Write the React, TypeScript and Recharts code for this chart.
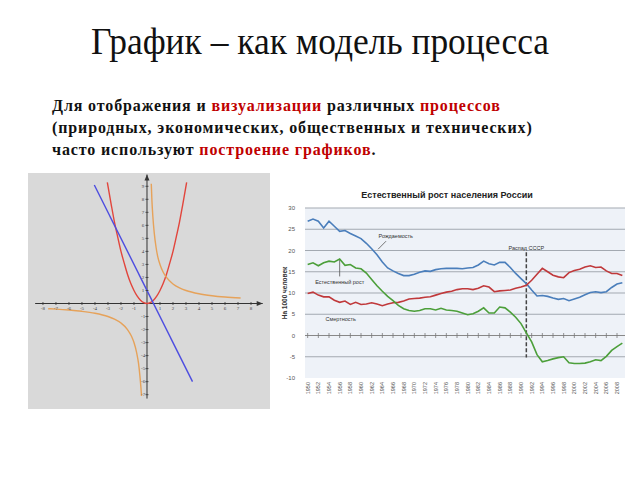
import React from 'react';
import {
  LineChart,
  Line,
  XAxis,
  YAxis,
  CartesianGrid,
  ReferenceLine,
  ReferenceDot,
} from 'recharts';

// --- population chart (Russia, per 1000 people) ---
const years = [
  1950, 1951, 1952, 1953, 1954, 1955, 1956, 1957, 1958, 1959,
  1960, 1961, 1962, 1963, 1964, 1965, 1966, 1967, 1968, 1969,
  1970, 1971, 1972, 1973, 1974, 1975, 1976, 1977, 1978, 1979,
  1980, 1981, 1982, 1983, 1984, 1985, 1986, 1987, 1988, 1989,
  1990, 1991, 1992, 1993, 1994, 1995, 1996, 1997, 1998, 1999,
  2000, 2001, 2002, 2003, 2004, 2005, 2006, 2007, 2008, 2009,
];
const birthRate = [
  26.9, 27.4, 26.9, 25.3, 26.9, 25.7, 24.5, 24.7, 24.0, 23.4,
  22.8, 21.7, 20.4, 19.0, 17.3, 15.9, 15.2, 14.6, 14.1, 14.1,
  14.4, 14.9, 15.2, 15.1, 15.5, 15.7, 15.8, 15.8, 15.8, 15.7,
  15.9, 16.0, 16.6, 17.5, 16.9, 16.6, 17.2, 17.2, 16.0, 14.6,
  13.4, 12.2, 10.7, 9.3, 9.4, 9.2, 8.8, 8.5, 8.7, 8.2,
  8.6, 9.0, 9.6, 10.1, 10.3, 10.1, 10.3, 11.3, 12.1, 12.4,
];
const deathRate = [
  9.9, 10.2, 9.5, 9.1, 9.1, 8.3, 7.8, 8.1, 7.3, 7.8,
  7.3, 7.4, 7.7, 7.4, 7.0, 7.4, 7.7, 7.8, 8.1, 8.6,
  8.7, 8.8, 9.0, 9.1, 9.5, 9.9, 10.2, 10.4, 10.8, 11.0,
  11.0, 10.8, 11.1, 11.7, 11.4, 10.3, 10.5, 10.6, 10.7, 11.1,
  11.4, 11.8, 13.0, 14.4, 15.8, 15.0, 14.2, 13.8, 13.6, 14.8,
  15.3, 15.6, 16.1, 16.4, 16.0, 16.1, 15.2, 14.6, 14.6, 14.1,
];
const naturalGrowth = [
  16.7, 17.1, 16.4, 17.1, 17.5, 17.3, 18.0, 16.5, 16.7, 15.9,
  15.7, 14.7, 13.2, 11.7, 10.4, 9.2, 8.2, 7.1, 6.3, 5.9,
  5.7, 5.9, 6.3, 6.3, 6.0, 6.4, 6.0, 5.9, 5.7, 5.3,
  4.9, 5.1, 5.7, 6.5, 5.3, 5.3, 6.7, 6.5, 5.5, 4.3,
  2.8, 0.6, -1.5, -4.5, -6.2, -5.9, -5.5, -5.2, -5.0, -6.4,
  -6.6, -6.6, -6.5, -6.2, -5.7, -5.9, -4.9, -3.5, -2.6, -1.8,
];
const yTicks = [-10, -5, 0, 5, 10, 15, 20, 25, 30];
const gridValues = [30, 25, 20, 15, 10, 5, -5];
const yearTicks = [
  1950, 1952, 1954, 1956, 1958, 1960, 1962, 1964, 1966, 1968,
  1970, 1972, 1974, 1976, 1978, 1980, 1982, 1984, 1986, 1988,
  1990, 1992, 1994, 1996, 1998, 2000, 2002, 2004, 2006, 2008,
];

// --- function graphs (left picture) ---
const parabolaX = [-3.05, -2.75, -2.5, -2.25, -2, -1.75, -1.5, -1.25, -1, -0.75, -0.5, -0.25, 0, 0.25, 0.5, 0.75, 1, 1.25, 1.5, 1.75, 2, 2.25, 2.5, 2.75, 3.05];
const parabolaY = [9.3, 7.6, 6.25, 5.1, 4, 3.1, 2.25, 1.55, 1, 0.56, 0.25, 0.06, 0, 0.06, 0.25, 0.56, 1, 1.55, 2.25, 3.1, 4, 5.1, 6.25, 7.6, 9.3];
const straightX = [-4.05, 3.5];
const straightY = [9.1, -6.0];
const hyperRightX = [0.33, 0.38, 0.45, 0.55, 0.7, 0.85, 1, 1.25, 1.5, 2, 2.5, 3, 4, 5, 6, 7.2];
const hyperRightY = [9.2, 7.9, 6.7, 5.5, 4.3, 3.5, 3, 2.4, 2, 1.5, 1.2, 1, 0.75, 0.6, 0.5, 0.42];
const hyperLeftX = [-7.6, -7, -6, -5, -4, -3, -2.5, -2, -1.5, -1.2, -1, -0.8, -0.65, -0.55, -0.47, -0.42];
const hyperLeftY = [-0.4, -0.43, -0.5, -0.6, -0.75, -1, -1.2, -1.5, -2, -2.5, -3, -3.75, -4.6, -5.5, -6.4, -7.1];
const mathXTicks = [-8, -7, -6, -5, -4, -3, -2, -1, 1, 2, 3, 4, 5, 6, 7, 8];
const mathYTicks = [9, 8, 7, 6, 5, 4, 3, 2, 1, -1, -2, -3, -4, -5, -6, -7];

const popData = years.map((year, i) => ({
  year,
  birth: birthRate[i],
  death: deathRate[i],
  growth: naturalGrowth[i],
}));

const toPoints = (xs: number[], ys: number[]) => xs.map((x, i) => ({ x, y: ys[i] }));

const RED = '#c00000';

const YearTick = (props: any) => {
  const { x, y, payload } = props;
  return (
    <text
      x={x + 2}
      y={y + 1}
      transform={`rotate(-90 ${x + 2} ${y + 1})`}
      textAnchor="end"
      fontSize={5.5}
      fill="#555"
      fontFamily="Liberation Sans, sans-serif"
    >
      {payload.value}
    </text>
  );
};

const hTick = (props: any) => (
  <line x1={props.cx} x2={props.cx} y1={props.cy - 1.5} y2={props.cy + 1.5} stroke="#333" strokeWidth={0.8} />
);
const vTick = (props: any) => (
  <line x1={props.cx - 1.5} x2={props.cx + 1.5} y1={props.cy} y2={props.cy} stroke="#333" strokeWidth={0.8} />
);
const zeroTick = (props: any) => (
  <line x1={props.cx} x2={props.cx} y1={props.cy - 2.5} y2={props.cy + 2.5} stroke="#777" strokeWidth={0.8} />
);
const arrowRight = (props: any) => (
  <path d={`M${props.cx},${props.cy} l-6,-2.5 l0,5 z`} fill="#333" />
);
const arrowUp = (props: any) => (
  <path d={`M${props.cx},${props.cy} l-2.5,6 l5,0 z`} fill="#333" />
);

const MathChart = () => (
  <LineChart width={242} height={236} margin={{ top: 0, right: 0, bottom: 0, left: 0 }}>
    <CartesianGrid horizontal={false} vertical={false} fill="#d9d9d9" />
    <XAxis type="number" dataKey="x" domain={[-9.15, 9.46]} hide allowDataOverflow />
    <YAxis type="number" dataKey="y" domain={[-8.1, 10.02]} hide allowDataOverflow />
    <ReferenceLine segment={[{ x: -8.6, y: 0 }, { x: 8.9, y: 0 }]} stroke="#333" strokeWidth={1} />
    <ReferenceLine segment={[{ x: 0, y: -7.3 }, { x: 0, y: 9.9 }]} stroke="#333" strokeWidth={1} />
    <ReferenceDot x={8.9} y={0} r={3} shape={arrowRight} />
    <ReferenceDot x={0} y={9.9} r={3} shape={arrowUp} />
    {mathXTicks.map((t) => (
      <ReferenceDot key={`xt${t}`} x={t} y={0} r={2} shape={hTick} />
    ))}
    {mathYTicks.map((t) => (
      <ReferenceDot key={`yt${t}`} x={0} y={t} r={2} shape={vTick} />
    ))}
    {mathXTicks.map((t) => (
      <ReferenceDot
        key={`xl${t}`}
        x={t}
        y={-0.4}
        r={0}
        fill="none"
        stroke="none"
        label={{ value: String(t), fontSize: 5, fill: '#444', position: 'center' }}
      />
    ))}
    {mathYTicks.map((t) => (
      <ReferenceDot
        key={`yl${t}`}
        x={-0.3}
        y={t}
        r={0}
        fill="none"
        stroke="none"
        label={{ value: String(t), fontSize: 5, fill: '#444', position: 'center' }}
      />
    ))}
    <ReferenceDot x={0.3} y={10.1} r={0} fill="none" stroke="none" label={{ value: 'y', fontSize: 6, fill: '#444', position: 'center' }} />
    <Line data={toPoints(parabolaX, parabolaY)} dataKey="y" type="monotone" stroke="#e2453c" strokeWidth={1.4} dot={false} isAnimationActive={false} />
    <Line data={toPoints(straightX, straightY)} dataKey="y" type="linear" stroke="#4c4ce0" strokeWidth={1.4} dot={false} isAnimationActive={false} />
    <Line data={toPoints(hyperRightX, hyperRightY)} dataKey="y" type="monotone" stroke="#e6a25a" strokeWidth={1.4} dot={false} isAnimationActive={false} />
    <Line data={toPoints(hyperLeftX, hyperLeftY)} dataKey="y" type="monotone" stroke="#e6a25a" strokeWidth={1.4} dot={false} isAnimationActive={false} />
  </LineChart>
);

const noteLabel = (value: string) => ({
  value,
  fontSize: 5.5,
  fill: '#333',
  position: 'center' as const,
  fontFamily: 'Liberation Sans, sans-serif',
});

const PopulationChart = () => (
  <LineChart width={360} height={225} data={popData} margin={{ top: 28, right: 7, bottom: 5, left: 13 }}>
    <CartesianGrid horizontal={false} vertical={false} fill="#eef2f8" />
    <XAxis
      type="number"
      dataKey="year"
      domain={[1949.5, 2009.5]}
      ticks={yearTicks}
      interval={0}
      axisLine={false}
      tickLine={false}
      tickSize={0}
      tickMargin={3}
      height={22}
      tick={<YearTick />}
    />
    <YAxis
      type="number"
      domain={[-10, 30]}
      ticks={yTicks}
      width={20}
      axisLine={false}
      tickLine={false}
      tickMargin={4}
      tick={{ fontSize: 6, fill: '#555', fontFamily: 'Liberation Sans, sans-serif' }}
      label={{
        value: 'На 1000 человек',
        angle: -90,
        position: 'insideLeft',
        offset: 0,
        fontSize: 6.5,
        fontWeight: 'bold',
        fill: '#333',
        style: { textAnchor: 'middle', fontFamily: 'Liberation Sans, sans-serif' },
      }}
    />
    {gridValues.map((v) => (
      <ReferenceLine key={`g${v}`} y={v} stroke="#a3a9b1" strokeWidth={1} />
    ))}
    <ReferenceLine y={0} stroke="#888" strokeWidth={1} />
    {yearTicks.map((t) => (
      <ReferenceDot key={`zt${t}`} x={t} y={0} r={2} shape={zeroTick} />
    ))}
    <ReferenceLine segment={[{ x: 1991, y: 19.6 }, { x: 1991, y: -5.2 }]} stroke="#444" strokeWidth={1.5} strokeDasharray="4 2" />
    <ReferenceLine segment={[{ x: 1964.7, y: 22.2 }, { x: 1963.2, y: 20.3 }]} stroke="#555" strokeWidth={0.8} />
    <ReferenceLine segment={[{ x: 1956, y: 17.9 }, { x: 1956, y: 13.9 }]} stroke="#555" strokeWidth={0.8} />
    <Line dataKey="birth" type="linear" stroke="#4a7ebb" strokeWidth={1.6} dot={false} isAnimationActive={false} />
    <Line dataKey="death" type="linear" stroke="#c0393b" strokeWidth={1.6} dot={false} isAnimationActive={false} />
    <Line dataKey="growth" type="linear" stroke="#4c9f3a" strokeWidth={1.6} dot={false} isAnimationActive={false} />
    <ReferenceDot x={1966.5} y={23.3} r={0} fill="none" stroke="none" label={noteLabel('Рождаемость')} />
    <ReferenceDot x={1991} y={20.6} r={0} fill="none" stroke="none" label={noteLabel('Распад СССР')} />
    <ReferenceDot x={1956} y={12.5} r={0} fill="none" stroke="none" label={noteLabel('Естественный рост')} />
    <ReferenceDot x={1956.2} y={3.8} r={0} fill="none" stroke="none" label={noteLabel('Смертность')} />
  </LineChart>
);

export default function App() {
  return (
    <div style={{ position: 'absolute', left: 0, top: 0, width: 640, height: 480, background: '#fff', overflow: 'hidden' }}>
      <div
        style={{
          position: 'absolute',
          left: 0,
          top: 17,
          width: 640,
          textAlign: 'center',
          fontFamily: '"Liberation Serif", serif',
          fontSize: 38,
          lineHeight: '48px',
          color: '#111',
          transform: 'scaleX(0.933)',
          transformOrigin: '320px 0',
        }}
      >
        График – как модель процесса
      </div>
      <div
        style={{
          position: 'absolute',
          left: 52,
          top: 95,
          width: 585,
          fontFamily: '"Liberation Serif", serif',
          fontWeight: 'bold',
          fontSize: 16,
          lineHeight: '22px',
          letterSpacing: 0.87,
          color: '#111',
        }}
      >
        <div>
          Для отображения и <span style={{ color: RED }}>визуализации</span> различных{' '}
          <span style={{ color: RED }}>процессов</span>
        </div>
        <div>(природных, экономических, общественных и технических)</div>
        <div>
          часто используют <span style={{ color: RED }}>построение графиков</span>.
        </div>
      </div>
      <div style={{ position: 'absolute', left: 28, top: 173 }}>
        <MathChart />
      </div>
      <div
        style={{
          position: 'absolute',
          left: 272,
          top: 190,
          width: 350,
          textAlign: 'center',
          fontFamily: '"Liberation Sans", sans-serif',
          fontWeight: 'bold',
          fontSize: 9,
          color: '#222',
        }}
      >
        Естественный рост населения России
      </div>
      <div style={{ position: 'absolute', left: 272, top: 180 }}>
        <PopulationChart />
      </div>
    </div>
  );
}
